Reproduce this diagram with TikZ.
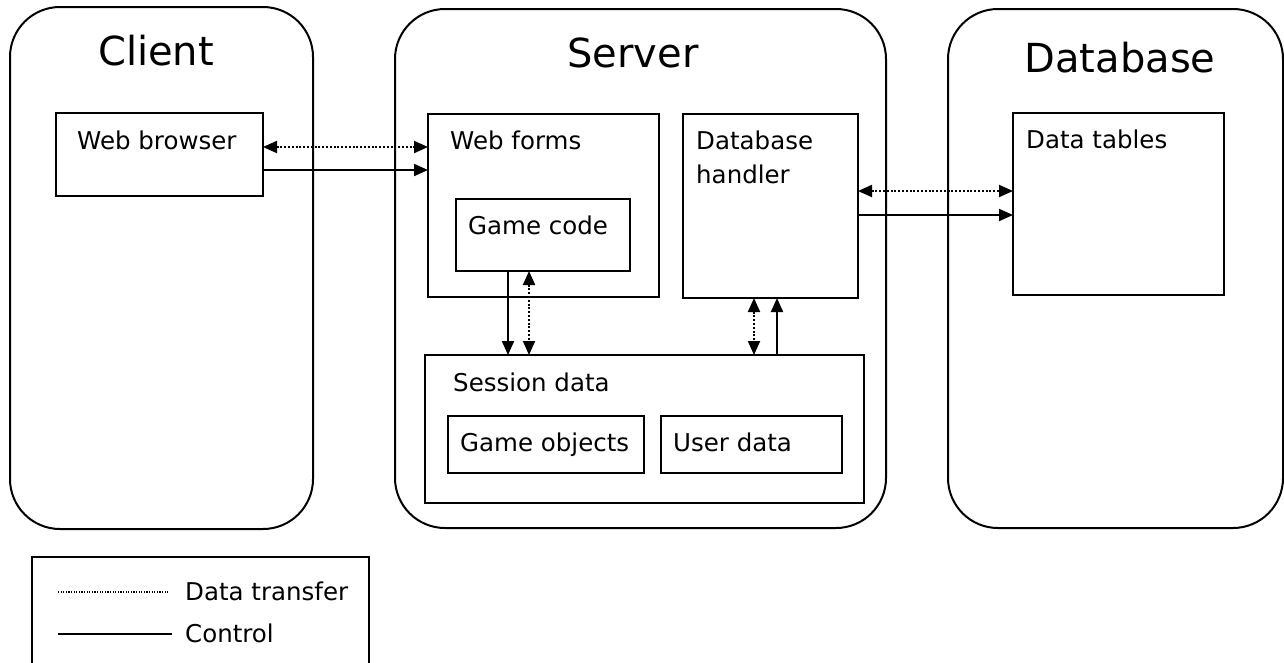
\documentclass[tikz,border=0pt]{standalone}
\usepackage{fontspec}
\setmainfont{DejaVu Sans}
\usetikzlibrary{arrows.meta}
\begin{document}
\begin{tikzpicture}[x=1pt,y=-1pt,
  tier/.style={draw,line width=2pt,rounded corners=50pt,inner sep=0pt,outer sep=0pt,anchor=north west},
  part/.style={draw,line width=2pt,inner sep=0pt,outer sep=0pt,anchor=north west},
  title/.style={inner sep=0pt,anchor=base,font=\fontsize{40}{48}\selectfont},
  lbl/.style={inner sep=0pt,anchor=base west,font=\fontsize{24.5}{30}\selectfont},
  ctrl/.style={line width=2pt,-{Triangle[length=14pt,width=12pt]}},
  data/.style={line width=2pt,dash pattern=on 2pt off 1.8pt,
    {Triangle[length=14pt,width=12pt]}-{Triangle[length=14pt,width=12pt]}}]
\useasboundingbox (0,0) rectangle (1284,662);

% tiers
\node[tier,minimum width=303pt,minimum height=522pt] (client) at (10,7) {};
\node[tier,minimum width=491pt,minimum height=519pt] (server) at (395,9) {};
\node[tier,minimum width=335pt,minimum height=519pt] (database) at (948,9) {};
\node[title] (clientT) at (156,65) {Client};
\node[title] (serverT) at (633,67) {Server};
\node[title] (databaseT) at (1120,72) {Database};

% components
\node[part,minimum width=207pt,minimum height=83pt] (wb) at (56,113) {};
\node[part,minimum width=231pt,minimum height=183pt] (wf) at (428,114) {};
\node[part,minimum width=174pt,minimum height=72pt] (gc) at (456,199) {};
\node[part,minimum width=175pt,minimum height=184pt] (dbh) at (683,114) {};
\node[part,minimum width=211pt,minimum height=182pt] (dt) at (1013,113) {};
\node[part,minimum width=439pt,minimum height=148pt] (ses) at (425,355) {};
\node[part,minimum width=196pt,minimum height=57pt] (go) at (448,416) {};
\node[part,minimum width=181pt,minimum height=57pt] (ud) at (661,416) {};

\node[lbl] (wbT) at (77,149) {Web browser};
\node[lbl] (wfT) at (450,149) {Web forms};
\node[lbl] (gcT) at (468,234) {Game code};
\node[lbl] (dbhT1) at (696,149) {Database};
\node[lbl] (dbhT2) at (696,183) {handler};
\node[lbl] (dtT) at (1026,148) {Data tables};
\node[lbl] (sesT) at (453,391) {Session data};
\node[lbl] (goT) at (460,451) {Game objects};
\node[lbl] (udT) at (673,451) {User data};

% connectors
\draw[data] (wb.east |- 0,147) -- (wf.west |- 0,147);
\draw[ctrl] (wb.east |- 0,170) -- (wf.west |- 0,170);
\draw[ctrl] (gc.south -| 508,0) -- (ses.north -| 508,0);
\draw[data] (gc.south -| 529,0) -- (ses.north -| 529,0);
\draw[data] (dbh.south -| 754,0) -- (ses.north -| 754,0);
\draw[ctrl] (ses.north -| 777,0) -- (dbh.south -| 777,0);
\draw[data] (dbh.east |- 0,191) -- (dt.west |- 0,191);
\draw[ctrl] (dbh.east |- 0,215) -- (dt.west |- 0,215);

% legend
\begin{scope}
\clip (0,0) rectangle (1284,662);
\node[part,minimum width=337pt,minimum height=130pt] (legend) at (32,557) {};
\end{scope}
\coordinate (dA) at (58,592);
\coordinate (dB) at (168,592);
\coordinate (cA) at (58,634);
\coordinate (cB) at (172,634);
\draw[line width=1.2pt,dash pattern=on 1.2pt off 1.4pt] (dA) -- (dB);
\draw[line width=2pt] (cA) -- (cB);
\node[lbl] (legD) at (185,600) {Data transfer};
\node[lbl] (legC) at (185,642) {Control};
\end{tikzpicture}
\end{document}
